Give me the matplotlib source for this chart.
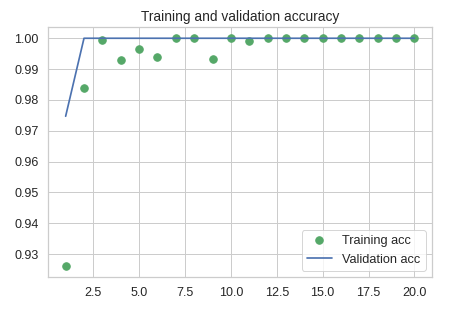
import matplotlib
matplotlib.use("Agg")
import matplotlib.pyplot as plt
import seaborn as sns

epochs = list(range(1, 21))
train_acc = [0.9262, 0.9839, 0.9995, 0.9929, 0.9965, 0.9939, 1.0, 1.0, 0.9932, 1.0,
             0.9991, 1.0, 1.0, 1.0, 1.0, 1.0, 1.0, 1.0, 1.0, 1.0]
val_acc = [0.9747, 1.0, 1.0, 1.0, 1.0, 1.0, 1.0, 1.0, 1.0, 1.0,
           1.0, 1.0, 1.0, 1.0, 1.0, 1.0, 1.0, 1.0, 1.0, 1.0]

sns.set_theme(style="whitegrid", color_codes=True)
plt.rcParams['font.family'] = ['Liberation Sans', 'DejaVu Sans']
plt.rcParams['xtick.labelsize'] = 12.5
plt.rcParams['ytick.labelsize'] = 12.5

fig = plt.figure(figsize=(459 / 72, 320 / 72), dpi=72)
fig.subplots_adjust(left=0.105, right=0.941, top=0.916, bottom=0.134)

plt.plot(epochs, train_acc, 'go', markersize=7.5, label='Training acc')
plt.plot(epochs, val_acc, 'b', linewidth=1.7, label='Validation acc')
plt.title('Training and validation accuracy', fontsize=13.7)
plt.legend(loc='lower right', fontsize=12.7)

plt.savefig("out.png", dpi=72)
